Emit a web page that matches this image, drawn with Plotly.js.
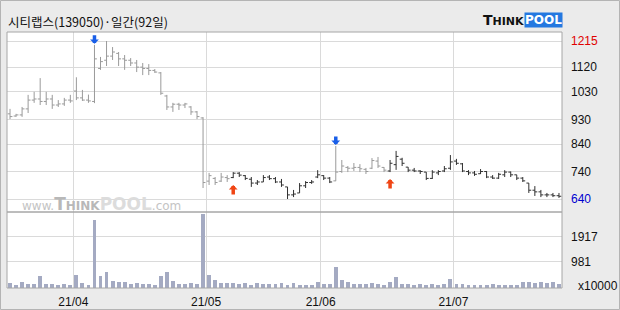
<!DOCTYPE html>
<html><head><meta charset="utf-8">
<script src="https://cdn.plot.ly/plotly-3.0.1.min.js"></script>
<style>html,body{margin:0;padding:0;background:#ebebeb;}#chart{width:620px;height:310px;}</style>
</head><body><div id="chart"></div>
<script>
// ---- data ----
const title = '시티랩스(139050)·일간(92일)';
const dates = [
 '2021-03-17','2021-03-18','2021-03-19','2021-03-22','2021-03-23','2021-03-24','2021-03-25','2021-03-26','2021-03-29','2021-03-30','2021-03-31',
 '2021-04-01','2021-04-02','2021-04-05','2021-04-06','2021-04-07','2021-04-08','2021-04-09','2021-04-12','2021-04-13','2021-04-14','2021-04-15','2021-04-16','2021-04-19','2021-04-20','2021-04-21','2021-04-22','2021-04-23','2021-04-26','2021-04-27','2021-04-28','2021-04-29','2021-04-30',
 '2021-05-03','2021-05-04','2021-05-06','2021-05-07','2021-05-10','2021-05-11','2021-05-12','2021-05-13','2021-05-14','2021-05-17','2021-05-18','2021-05-20','2021-05-21','2021-05-24','2021-05-25','2021-05-26','2021-05-27','2021-05-28','2021-05-31',
 '2021-06-01','2021-06-02','2021-06-03','2021-06-04','2021-06-07','2021-06-08','2021-06-09','2021-06-10','2021-06-11','2021-06-14','2021-06-15','2021-06-16','2021-06-17','2021-06-18','2021-06-21','2021-06-22','2021-06-23','2021-06-24','2021-06-25','2021-06-28','2021-06-29','2021-06-30',
 '2021-07-01','2021-07-02','2021-07-05','2021-07-06','2021-07-07','2021-07-08','2021-07-09','2021-07-12','2021-07-13','2021-07-14','2021-07-15','2021-07-16','2021-07-19','2021-07-20','2021-07-21','2021-07-22','2021-07-23','2021-07-26'
];
const open  = [950,942,946,968,1000,1004,995,1004,982,986,1000,1033,1008,1000,995,1115,1145,1160,1170,1150,1145,1135,1120,1115,1108,1099,1015,975,985,982,975,957,935,
               705,715,705,718,718,734,725,712,698,702,720,714,702,684,655,662,688,700,720,725,716,706,740,755,752,755,748,752,778,755,742,765,785,756,745,742,738,715,735,742,752,
               778,768,740,735,732,740,720,716,728,738,728,716,698,672,666,655,655,652];
const high  = [968,950,975,1019,1030,1080,1030,1019,1000,1008,1019,1083,1037,1020,1201,1157,1215,1193,1175,1164,1153,1146,1135,1131,1113,1102,1019,990,990,990,978,960,938,
               735,720,735,727,738,738,727,720,709,727,727,720,713,684,673,698,705,709,745,727,720,833,782,760,771,767,753,789,793,756,782,815,790,756,753,745,738,745,745,760,800,
               786,771,745,742,749,742,727,735,745,740,728,720,698,687,673,662,662,662];
const low   = [931,939,939,953,990,982,982,968,975,979,990,1000,997,990,989,1110,1124,1146,1124,1110,1124,1102,1091,1091,1099,1019,964,957,964,971,946,931,680,
               691,691,702,702,716,720,709,684,691,702,709,698,684,640,647,662,680,695,716,709,698,705,735,738,742,738,731,749,753,738,738,746,760,738,738,731,709,713,727,738,746,
               764,738,727,724,731,716,713,713,720,720,709,702,662,651,647,647,647,644];
const close = [940,946,968,1000,1004,995,1004,982,986,1000,997,1008,1000,997,1150,1140,1160,1175,1150,1145,1135,1120,1115,1108,1102,1025,975,985,982,986,957,940,700,
               725,700,720,714,734,727,715,698,702,718,714,702,691,655,658,688,700,702,728,716,702,738,760,752,755,750,740,780,760,745,770,795,770,745,742,740,715,738,740,750,775,
               770,742,735,730,740,720,716,730,738,728,716,706,672,666,655,655,652,650];
const volume = [175,112,212,150,150,449,150,150,112,150,112,486,175,112,2543,449,586,262,237,212,150,175,150,150,112,449,586,262,150,150,175,150,2768,
                486,299,200,200,200,150,175,112,175,150,150,150,175,112,175,112,112,112,212,150,150,797,299,212,150,150,150,200,150,112,212,424,150,150,112,150,112,150,112,150,337,
                150,150,112,112,112,112,150,112,112,112,112,212,212,175,212,175,212,150];
const signalIdx  = [14, 37, 54, 63];
const signalType = ['sell', 'buy', 'sell', 'buy'];
const priceTicks = [640, 740, 840, 930, 1030, 1120, 1215];
const volTicks = [981, 1917];
const volUnit = 'x10000';

// ---- helpers ----
const W = 620, H = 310;
const px = v => v / W;
const py = v => 1 - v / H;
const idx = dates.map((d, i) => i);

let state = 'sell';
const dark = idx.map(i => {
  const k = signalIdx.indexOf(i);
  if (k >= 0) state = signalType[k];
  return state === 'buy';
});
function sel(arr, want) { return arr.filter((v, i) => dark[i] === want); }
function ohlc(want, color) {
  return {
    type: 'ohlc', x: sel(idx, want), open: sel(open, want), high: sel(high, want),
    low: sel(low, want), close: sel(close, want),
    increasing: {line: {color: color, width: 1}}, decreasing: {line: {color: color, width: 1}},
    tickwidth: 0.4, xaxis: 'x', yaxis: 'y', hoverinfo: 'skip', showlegend: false
  };
}

// month ticks
const mTickVals = [], mTickText = [];
dates.forEach((d, i) => {
  if (i > 0 && d.slice(5, 7) !== dates[i - 1].slice(5, 7)) {
    mTickVals.push(i - 0.5);
    mTickText.push(d.slice(2, 4) + '/' + d.slice(5, 7));
  }
});

const maxP = Math.max(...high), minP = Math.min(...low);
const pTickText = priceTicks.map(v => v === maxP ? '<span style="color:#e00000">' + v + '</span>'
                                   : v === minP ? '<span style="color:#0000d0">' + v + '</span>' : String(v));

const tf = {family: 'Liberation Sans, Arial, sans-serif', size: 12, color: '#111'};
const grid = '#dadada';

const traces = [
  ohlc(false, '#9a9a9a'),
  ohlc(true, '#303030'),
  {type: 'bar', x: idx, y: volume, xaxis: 'x', yaxis: 'y2', width: 0.64,
   marker: {color: '#a4aac2', line: {width: 0}}, hoverinfo: 'skip', showlegend: false}
];

const annotations = [
  {xref: 'paper', yref: 'paper', x: px(6), y: py(21), xanchor: 'left', yanchor: 'middle', showarrow: false,
   text: title, font: {family: 'Noto Sans CJK KR, sans-serif', size: 12.5, color: '#111'}},
  {xref: 'paper', yref: 'paper', x: px(481), y: py(20), xanchor: 'left', yanchor: 'middle', showarrow: false,
   text: '<b>T<span style="font-size:11px">HINK</span></b>', font: {family: 'DejaVu Sans, sans-serif', size: 14, color: '#111'}},
  {xref: 'paper', yref: 'paper', x: px(524), y: py(20), xanchor: 'left', yanchor: 'middle', showarrow: false,
   text: '<b>POOL</b>', bgcolor: '#2478e0', borderpad: 0, font: {family: 'DejaVu Sans, sans-serif', size: 12, color: '#ffffff'}},
  {xref: 'paper', yref: 'paper', x: px(20), y: py(204), xanchor: 'left', yanchor: 'middle', showarrow: false,
   text: 'www.<b><span style="font-size:17px;color:#b8b8b8">T</span><span style="color:#b8b8b8">HINK</span><span style="font-size:17px;color:#dcdcdc">POOL</span></b>.com',
   font: {family: 'DejaVu Sans, sans-serif', size: 12, color: '#c4c4c4'}},
  {xref: 'paper', yref: 'paper', x: px(576), y: py(286), xanchor: 'left', yanchor: 'middle', showarrow: false,
   text: volUnit, font: tf}
];
signalIdx.forEach((i, k) => {
  const sell = signalType[k] === 'sell';
  annotations.push({
    xref: 'x', yref: 'y', x: i, y: sell ? high[i] : low[i], text: '', showarrow: true,
    arrowhead: 1, arrowsize: 0.42, arrowwidth: 3.5, arrowcolor: sell ? '#1a5fe8' : '#f04514',
    ax: 0, ay: sell ? -11 : 18, standoff: sell ? 1 : 7
  });
});

const layout = {
  width: W, height: H, margin: {l: 0, r: 0, t: 0, b: 0},
  paper_bgcolor: '#ebebeb', plot_bgcolor: '#ffffff', showlegend: false, bargap: 0,
  xaxis: {domain: [px(7), px(562)], range: [-0.5, 91.5], anchor: 'y2', type: 'linear',
          tickmode: 'array', tickvals: mTickVals, ticktext: mTickText, showgrid: true, gridcolor: grid,
          zeroline: false, showline: false, ticks: '', tickfont: tf, ticklabelstandoff: 5,
          rangeslider: {visible: false}, fixedrange: true},
  yaxis: {domain: [py(212), py(32)], range: [592.7, 1247.8], side: 'right', anchor: 'x',
          tickmode: 'array', tickvals: priceTicks, ticktext: pTickText, showgrid: true, gridcolor: grid,
          zeroline: false, showline: false, ticks: '', tickfont: tf, ticklabelstandoff: 8, fixedrange: true},
  yaxis2: {domain: [py(288), py(212)], range: [0, 2845], side: 'right', anchor: 'x',
          tickmode: 'array', tickvals: volTicks, ticktext: volTicks.map(String), showgrid: true, gridcolor: grid,
          zeroline: false, showline: false, ticks: '', tickfont: tf, ticklabelstandoff: 8, fixedrange: true},
  shapes: [
    {type: 'rect', xref: 'paper', yref: 'paper', x0: px(7), x1: px(562), y0: py(212), y1: py(32), line: {color: '#a6a6a6', width: 1}, layer: 'above'},
    {type: 'rect', xref: 'paper', yref: 'paper', x0: px(7), x1: px(562), y0: py(288), y1: py(212), line: {color: '#a6a6a6', width: 1}, layer: 'above'},
    {type: 'rect', xref: 'paper', yref: 'paper', x0: px(0.5), x1: px(619.5), y0: py(309.5), y1: py(0.5), line: {color: '#b4b4b4', width: 1}, layer: 'below'}
  ],
  annotations: annotations
};

Plotly.newPlot('chart', traces, layout, {staticPlot: true, displayModeBar: false});
</script>
</body></html>
